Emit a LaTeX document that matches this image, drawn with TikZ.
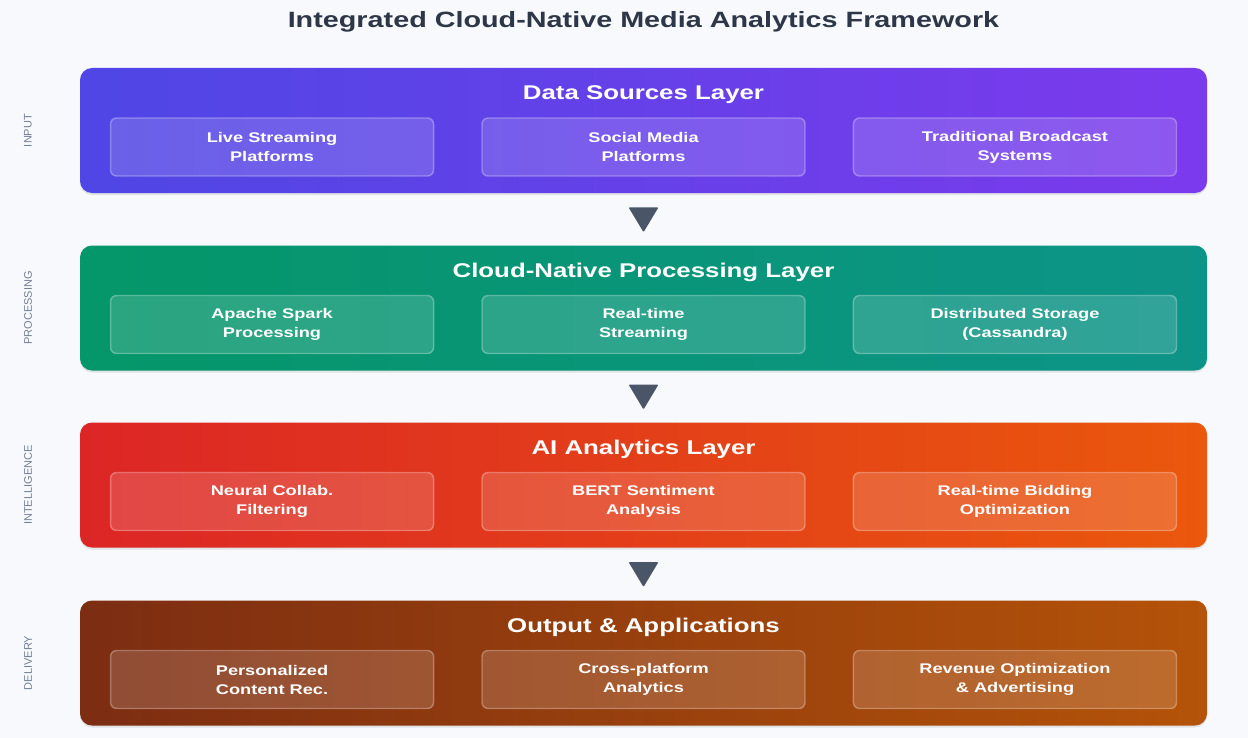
\documentclass[tikz,border=0pt]{standalone}
\usepackage{fontspec}
\setmainfont{Liberation Sans}[FakeStretch=1.3]
\newfontfamily\sidefont{Liberation Sans}
\usepackage{tikz}
\usetikzlibrary{math}
\usetikzlibrary{calc,shadows,positioning}
\usepackage{xcolor}

\definecolor{bgcol}{HTML}{F7F9FC}
\definecolor{titlecol}{HTML}{2D3748}
\definecolor{sidecol}{HTML}{718096}
\definecolor{arrowcol}{HTML}{4A5568}
\definecolor{inA}{HTML}{4F46E5}
\definecolor{inB}{HTML}{7C3AED}
\definecolor{procA}{HTML}{059669}
\definecolor{procB}{HTML}{0D9488}
\definecolor{aiA}{HTML}{DC2626}
\definecolor{aiB}{HTML}{EA580C}
\definecolor{outA}{HTML}{7C2D12}
\definecolor{outB}{HTML}{B45309}

\begin{document}
\begin{tikzpicture}[x=0.75pt,y=-0.75pt]

\tikzmath{
	\G = 47; % gap between the boxes of a layer (px)
}

\tikzset{layer/.style 2 args={
    rounded corners=9pt,
    left color=#1, right color=#2,
    minimum width=845.25pt, minimum height=93.75pt,
    inner sep=0pt,
    drop shadow={shadow xshift=0pt, shadow yshift=-1.5pt, opacity=0.18}
  },
  layer title/.style={
    text=white, font=\bfseries\fontsize{14.9}{18}\selectfont, inner sep=0pt
  },
  subbox/.style={
    draw=white, draw opacity=0.3, line width=1.1pt,
    fill=white, fill opacity=0.15, text opacity=1,
    rounded corners=4.5pt,
    minimum width=242.25pt, minimum height=43.5pt,
    text=white, align=center, inner sep=0pt,
    font=\bfseries\fontsize{10.5}{14.25}\selectfont
  },
  side label/.style={
    rotate=90, text=sidecol, font=\sidefont\fontsize{8.25}{10}\selectfont
  },
  flow/.style={fill=arrowcol, rounded corners=0.8pt}
}

\fill[bgcol] (0,0) rectangle (1248,738);
\useasboundingbox (0,0) rectangle (1248,738);

\node[text=titlecol, font=\bfseries\fontsize{16.6}{20}\selectfont] (title) at (643.5,22) {Integrated Cloud-Native Media Analytics Framework};

% layers
\node[layer={inA}{inB}] (l1) at (643.5,130.5) {};
\node[layer={procA}{procB}] (l2) at (643.5,308) {};
\node[layer={aiA}{aiB}] (l3) at (643.5,485) {};
\node[layer={outA}{outB}] (l4) at (643.5,663) {};

\node[layer title] (t1) at ($(l1.center)+(0,-36)$) {Data Sources Layer};
\node[layer title] (t2) at ($(l2.center)+(0,-36)$) {Cloud-Native Processing Layer};
\node[layer title] (t3) at ($(l3.center)+(0,-36)$) {AI Analytics Layer};
\node[layer title] (t4) at ($(l4.center)+(0,-36)$) {Output \& Applications};

% boxes
\node[subbox] (b12) at ($(l1.center)+(0,16.5)$) {Social Media\\Platforms};
\node[subbox, left=\G of b12] (b11) {Live Streaming\\Platforms};
\node[subbox, right=\G of b12] (b13) {Traditional Broadcast\\Systems};

\node[subbox] (b22) at ($(l2.center)+(0,16.5)$) {Real-time\\Streaming};
\node[subbox, left=\G of b22] (b21) {Apache Spark\\Processing};
\node[subbox, right=\G of b22] (b23) {Distributed Storage\\(Cassandra)};

\node[subbox] (b32) at ($(l3.center)+(0,16.5)$) {BERT Sentiment\\Analysis};
\node[subbox, left=\G of b32] (b31) {Neural Collab.\\Filtering};
\node[subbox, right=\G of b32] (b33) {Real-time Bidding\\Optimization};

\node[subbox] (b42) at ($(l4.center)+(0,16.5)$) {Cross-platform\\Analytics};
\node[subbox, left=\G of b42] (b41) {Personalized\\Content Rec.};
\node[subbox, right=\G of b42] (b43) {Revenue Optimization\\\& Advertising};

% side labels
\node[side label] (s1) at (28,130.5) {INPUT};
\node[side label] (s2) at (28,308) {PROCESSING};
\node[side label] (s3) at (28,485) {INTELLIGENCE};
\node[side label] (s4) at (28,663) {DELIVERY};

% arrows between layers
\coordinate (a1) at ($(l1.south)!0.5!(l2.north)$);
\coordinate (a2) at ($(l2.south)!0.5!(l3.north)$);
\coordinate (a3) at ($(l3.south)!0.5!(l4.north)$);
\foreach \a in {a1,a2,a3}
  \fill[flow] ($(\a)+(-15,-12)$) -- ($(\a)+(15,-12)$) -- ($(\a)+(0,13)$) -- cycle;

\end{tikzpicture}
\end{document}
